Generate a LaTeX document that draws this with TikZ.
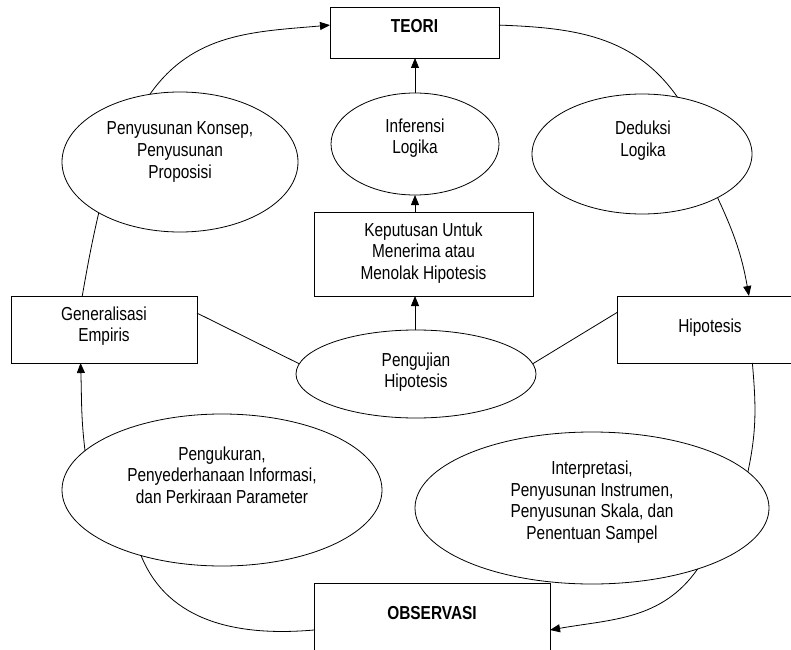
\documentclass[tikz,border=0pt]{standalone}
\usepackage{fontspec}
\setmainfont{Liberation Sans}[FakeStretch=0.82]
\usetikzlibrary{shapes.geometric,arrows.meta,calc}
\begin{document}
\begin{tikzpicture}[x=1pt,y=1pt,
  every node/.style={inner sep=0pt,outer sep=0pt},
  box/.style={draw,rectangle,line width=0.8pt},
  oval/.style={draw,ellipse,line width=0.8pt},
  txt/.style={align=center,font=\fontsize{18.8}{21.6}\selectfont},
  txtb/.style={align=center,font=\fontsize{18.8}{21.6}\selectfont\bfseries},
  conn/.style={line width=0.8pt},
  arr/.style={conn,-{Triangle[length=10pt,width=8pt]}},
]
\useasboundingbox (0,0) rectangle (791,649);
\clip (0,0) rectangle (791,649);

% boxes
\node[box, minimum width=169pt, minimum height=51pt] (teori) at (414.5,616.5) {};
\node[txtb] (teori-t) at (414.5,623) {TEORI};
\node[box, minimum width=219pt, minimum height=84pt] (kep) at (423.5,395) {};
\node[txt] (kep-t) at (423.5,396) {Keputusan Untuk\\Menerima atau\\Menolak Hipotesis};
\node[box, minimum width=186pt, minimum height=67pt] (gen) at (104,319.5) {};
\node[txt] (gen-t) at (104,323) {Generalisasi\\Empiris};
\node[box, minimum width=175pt, minimum height=67pt] (hip) at (704.5,319.5) {};
\node[txt] (hip-t) at (710,321) {Hipotesis};
\node[box, minimum width=236pt, minimum height=94pt] (obs) at (432,19) {};
\node[txtb] (obs-t) at (432,36) {OBSERVASI};

% ellipses
\node[oval, minimum width=168pt, minimum height=102pt] (inf) at (415,505) {};
\node[txt] (inf-t) at (415,511) {Inferensi\\Logika};
\node[oval, minimum width=236pt, minimum height=140pt] (pk) at (180,487) {};
\node[txt] (pk-t) at (180,497) {Penyusunan Konsep,\\Penyusunan\\Proposisi};
\node[oval, minimum width=220pt, minimum height=120pt] (ded) at (642,495) {};
\node[txt] (ded-t) at (643,508.5) {Deduksi\\Logika};
\node[oval, minimum width=240pt, minimum height=88pt] (pj) at (416,275) {};
\node[txt] (pj-t) at (416,277) {Pengujian\\Hipotesis};
\node[oval, minimum width=320pt, minimum height=152pt] (pu) at (222,159) {};
\node[txt] (pu-t) at (222,174) {Pengukuran,\\Penyederhanaan Informasi,\\dan Perkiraan Parameter};
\node[oval, minimum width=354pt, minimum height=152pt] (int) at (592,141) {};
\node[txt] (int-t) at (592,147) {Interpretasi,\\Penyusunan Instrumen,\\Penyusunan Skala, dan\\Penentuan Sampel};

% outer cycle
\draw[arr] (pk.114) to[out=55,in=185] (teori.175);
\draw[conn] (teori.5) to[out=-2,in=125] (ded.58);
\draw[arr] (ded.-30) to[out=-65,in=100] (hip.37.6);
\draw[conn] (hip.-35.2) to[out=-85,in=78] (int.13.4);
\draw[arr] (int.-30.7) to[out=-125,in=10] (obs.east);
\draw[conn] (pu.-141.6) to[out=-68,in=185] (obs.west);
\draw[arr] (pu.164.5) to[out=97,in=-88] (gen.-125.6);
\draw[conn] (pk.-148) to[out=-103,in=80] (gen.123.3);

% inner links
\draw[conn] (gen.10) -- (pj.175.7);
\draw[conn] (hip.169.3) -- (pj.5.4);
\draw[arr] (pj.north -| inf.center) -- (kep.south -| inf.center);
\draw[arr] (kep.north -| inf.center) -- (inf.south);
\draw[arr] (inf.north) -- (teori.south -| inf.center);
\end{tikzpicture}
\end{document}
